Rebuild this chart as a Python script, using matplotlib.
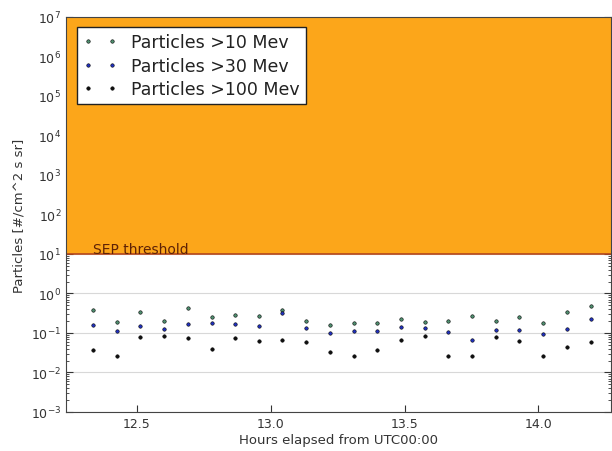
import matplotlib
matplotlib.use("Agg")
import matplotlib.pyplot as plt
from matplotlib.ticker import LogLocator, NullFormatter

hours = [12.336, 12.425, 12.513, 12.602, 12.690, 12.779, 12.867, 12.956, 13.044,
         13.133, 13.221, 13.310, 13.398, 13.487, 13.575, 13.664, 13.752, 13.841,
         13.929, 14.018, 14.106, 14.195]
p10 = [0.372, 0.185, 0.345, 0.205, 0.435, 0.252, 0.283, 0.267, 0.379, 0.205, 0.162,
       0.182, 0.182, 0.220, 0.193, 0.205, 0.267, 0.205, 0.258, 0.182, 0.345, 0.478]
p30 = [0.158, 0.112, 0.149, 0.128, 0.168, 0.182, 0.168, 0.153, 0.326, 0.136, 0.102,
       0.112, 0.114, 0.141, 0.131, 0.104, 0.0677, 0.118, 0.118, 0.0922, 0.125, 0.224]
p100 = [0.0364, 0.0267, 0.0806, 0.082, 0.076, 0.039, 0.073, 0.064, 0.0677, 0.058, 0.0337,
        0.0267, 0.0364, 0.0677, 0.0855, 0.0267, 0.0267, 0.0806, 0.0624, 0.0267, 0.045, 0.058]
labels = ["Particles >10 Mev", "Particles >30 Mev", "Particles >100 Mev"]
threshold = 10
ymax = 1e7
ymin = 1e-3

plt.rcParams['font.family'] = ['DejaVu Sans']
fig = plt.figure(figsize=(6.12, 4.52), dpi=100)
ax = fig.add_axes([0.108, 0.0863, 0.89, 0.874])

ax.axhspan(threshold, ymax, color='#fca61a', zorder=2, lw=0)
ax.axhline(threshold, color='#b5471c', lw=1.2, zorder=3)
ax.text(hours[0], threshold * 1.06, "SEP threshold", color='#5e2206', fontsize=10,
        va='baseline', ha='left', zorder=4)

for vals, col, lab in zip([p10, p30, p100], ['#4f8f6f', '#2030c0', '#101010'], labels):
    ax.plot(hours, vals, '.', color=col, mfc=col, mec='k', mew=0.4, ms=5,
            label=lab, zorder=5, linestyle='none')

ax.set_yscale('log')
ax.set_ylim(ymin, ymax)
ax.yaxis.set_major_locator(LogLocator(base=10, numticks=20))
ax.yaxis.set_minor_locator(LogLocator(base=10, subs=range(2, 10), numticks=20))
ax.yaxis.set_minor_formatter(NullFormatter())
ax.set_xlim(12.236, 14.27)
ax.set_xticks([12.5, 13.0, 13.5, 14.0])
ax.grid(True, which='major', axis='y', color='#d8d8d8', lw=0.8, zorder=0)
ax.tick_params(which='both', direction='in', top=True, right=True, labelsize=9,
               colors='#333333')
ax.tick_params(which='major', length=5)
ax.tick_params(which='minor', length=2.5)
for s in ax.spines.values():
    s.set_color('#444444')
    s.set_zorder(6)

ax.set_xlabel("Hours elapsed from UTC00:00", fontsize=9.5, color='#333333', labelpad=2)
ax.set_ylabel("Particles [#/cm^2 s sr]", fontsize=9.5, color='#333333')

leg = ax.legend(loc='upper left', numpoints=2, fontsize=12.5, fancybox=False,
                framealpha=1, edgecolor='#222222', borderaxespad=0.6,
                handlelength=2.0, labelspacing=0.3, borderpad=0.35)
leg.set_zorder(7)
leg.get_frame().set_linewidth(1.0)
for t in leg.get_texts():
    t.set_color('#222222')

fig.savefig("out.png", dpi=100, facecolor='white')
